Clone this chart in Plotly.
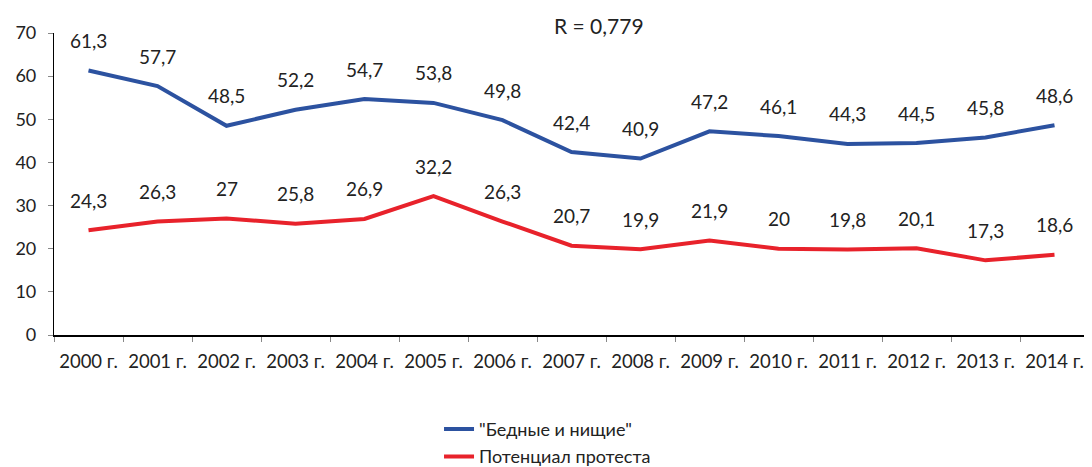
import plotly.graph_objects as go

years = ["2000 г.", "2001 г.", "2002 г.", "2003 г.", "2004 г.", "2005 г.", "2006 г.",
         "2007 г.", "2008 г.", "2009 г.", "2010 г.", "2011 г.", "2012 г.", "2013 г.", "2014 г."]
poor = [61.3, 57.7, 48.5, 52.2, 54.7, 53.8, 49.8, 42.4, 40.9, 47.2, 46.1, 44.3, 44.5, 45.8, 48.6]
protest = [24.3, 26.3, 27, 25.8, 26.9, 32.2, 26.3, 20.7, 19.9, 21.9, 20, 19.8, 20.1, 17.3, 18.6]
poor_name = '"Бедные и нищие"'
protest_name = "Потенциал протеста"
blue = "#2C52A0"
red = "#E8222B"
font = "Lato"

def fmt(v):
    s = ("%g" % v).replace(".", ",")
    return s

fig = go.Figure()
fig.add_trace(go.Scatter(x=years, y=poor, mode="lines", name=poor_name, legendgroup="a",
                         line=dict(color=blue, width=4)))
fig.add_trace(go.Scatter(x=years, y=protest, mode="lines", name=protest_name, legendgroup="b",
                         line=dict(color=red, width=4)))

anns = []
for series in (poor, protest):
    for x, v in zip(years, series):
        anns.append(dict(x=x, y=v, text=fmt(v), showarrow=False, yshift=30,
                         font=dict(family=font, size=19, color="#222")))
anns.append(dict(xref="paper", yref="paper", x=0.527, y=1.0, yshift=8, yanchor="middle",
                 text="R = 0,779", showarrow=False,
                 font=dict(family=font, size=21, color="#222")))

fig.update_layout(
    width=1084, height=459,
    margin=dict(l=46, r=3, t=25, b=132, autoexpand=False),
    paper_bgcolor="white", plot_bgcolor="white",
    font=dict(family=font, size=17, color="#222"),
    annotations=anns,
    legend=dict(orientation="v", x=0.372, xanchor="left", y=-0.463, yanchor="bottom",
                traceorder="grouped", font=dict(family=font, size=18), tracegroupgap=1),
    xaxis=dict(type="category", tickson="boundaries", ticks="outside", ticklen=5,
               tickcolor="#888", showline=True, linecolor="black", linewidth=1.5,
               showgrid=False, tickfont=dict(family=font, size=18.5), range=[-0.5, 14.5],
               ticklabelstandoff=9, automargin=False),
    yaxis=dict(range=[0, 70], dtick=10, ticks="outside", ticklen=5, tickcolor="#888",
               showline=True, linecolor="black", linewidth=1.2, showgrid=False,
               zeroline=False, tickfont=dict(family=font, size=18), ticklabelstandoff=8,
               automargin=False),
)
fig.write_html("out.html")
